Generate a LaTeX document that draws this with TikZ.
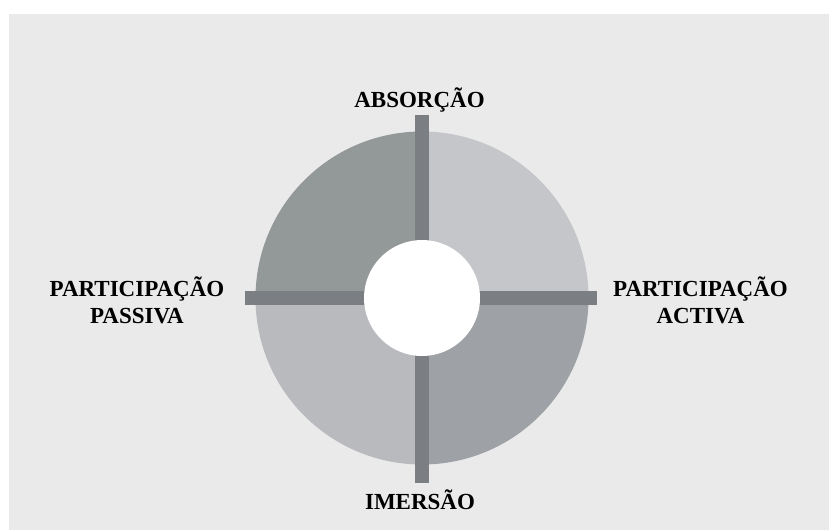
\documentclass[tikz,border=0pt]{standalone}
\usepackage{fontspec}
\setmainfont{Liberation Serif}
\begin{document}
\begin{tikzpicture}[x=1pt,y=-1pt,
  lbl/.style={font=\bfseries\fontsize{23}{27}\selectfont, align=center, inner sep=0pt, anchor=base},
  bar/.style={fill=barc}]
\definecolor{bgc}{RGB}{234,234,234}
\definecolor{tlc}{RGB}{147,152,152}
\definecolor{trc}{RGB}{197,198,201}
\definecolor{blc}{RGB}{185,186,190}
\definecolor{brc}{RGB}{158,162,166}
\definecolor{barc}{RGB}{123,127,131}
\useasboundingbox (0,0) rectangle (829,530);
\fill[white] (0,0) rectangle (829,530);
\fill[bgc] (9,14) rectangle (829,530);
\coordinate (c) at (422,298);
% quadrants
\begin{scope}\clip (c) rectangle ++(-200,-200); \fill[tlc] (c) circle (166.5pt);\end{scope}
\begin{scope}\clip (c) rectangle ++(200,-200); \fill[trc] (c) circle (166.5pt);\end{scope}
\begin{scope}\clip (c) rectangle ++(-200,200); \fill[blc] (c) circle (166.5pt);\end{scope}
\begin{scope}\clip (c) rectangle ++(200,200); \fill[brc] (c) circle (166.5pt);\end{scope}
% bars
\fill[bar] (245,291) rectangle (597,305);
\fill[bar] (415,115) rectangle (429,483);
% hub
\node[circle, fill=white, minimum size=116pt, inner sep=0pt] (hub) at (c) {};
% labels
\node[lbl] (abs) at (419.5,107.3) {ABSORÇÃO};
\node[lbl] (ime) at (420,509.3) {IMERSÃO};
\node[lbl] (act) at (700.5,323) {PARTICIPAÇÃO\\ACTIVA};
\node[lbl] (pas) at (137,323) {PARTICIPAÇÃO\\PASSIVA};
\end{tikzpicture}
\end{document}
